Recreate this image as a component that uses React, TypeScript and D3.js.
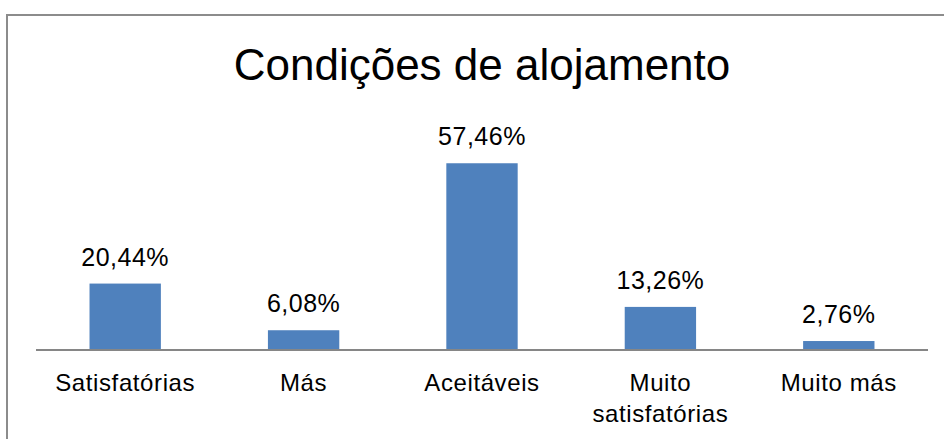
import React from "react";
import * as d3 from "d3";

const title = "Condições de alojamento";
const categories = ["Satisfatórias", "Más", "Aceitáveis", "Muito satisfatórias", "Muito más"];
const categoryLines = [["Satisfatórias"], ["Más"], ["Aceitáveis"], ["Muito", "satisfatórias"], ["Muito más"]];
const values = [20.44, 6.08, 57.46, 13.26, 2.76];
const valueLabels = ["20,44%", "6,08%", "57,46%", "13,26%", "2,76%"];

const W = 944;
const H = 439;
const FONT = "'Liberation Sans', Arial, sans-serif";

export default function App() {
  const x = d3.scaleBand<string>().domain(categories).range([36, 928]).paddingInner(0.6).paddingOuter(0.3);
  const y = d3.scaleLinear().domain([0, 60]).range([350, 155]);

  return (
    <svg
      width={W}
      height={H}
      style={{ position: "absolute", left: 0, top: 0, background: "#fff" }}
    >
      <rect x={0} y={0} width={W} height={H} fill="#fff" />
      <rect x={7} y={15} width={W + 20} height={H + 20} fill="none" stroke="#8c8c8c" strokeWidth={2} />
      <text x={482} y={80} textAnchor="middle" fontFamily={FONT} fontSize={44} fill="#000">
        {title}
      </text>
      {categories.map((c, i) => (
        <rect
          key={c}
          x={x(c)}
          y={y(values[i])}
          width={x.bandwidth()}
          height={y(0) - y(values[i])}
          fill="#4F81BD"
        />
      ))}
      <line x1={36} x2={928} y1={y(0)} y2={y(0)} stroke="#868686" strokeWidth={2} />
      {categories.map((c, i) => (
        <text
          key={"v" + c}
          x={(x(c) as number) + x.bandwidth() / 2}
          y={y(values[i]) - 18}
          textAnchor="middle"
          fontFamily={FONT}
          fontSize={25}
          letterSpacing={0.5}
          fill="#000"
        >
          {valueLabels[i]}
        </text>
      ))}
      {categories.map((c, i) => (
        <text
          key={"c" + c}
          x={(x(c) as number) + x.bandwidth() / 2}
          y={391}
          textAnchor="middle"
          fontFamily={FONT}
          fontSize={24}
          letterSpacing={0.6}
          fill="#000"
        >
          {categoryLines[i].map((l, j) => (
            <tspan key={j} x={(x(c) as number) + x.bandwidth() / 2} dy={j === 0 ? 0 : 31}>
              {l}
            </tspan>
          ))}
        </text>
      ))}
    </svg>
  );
}
